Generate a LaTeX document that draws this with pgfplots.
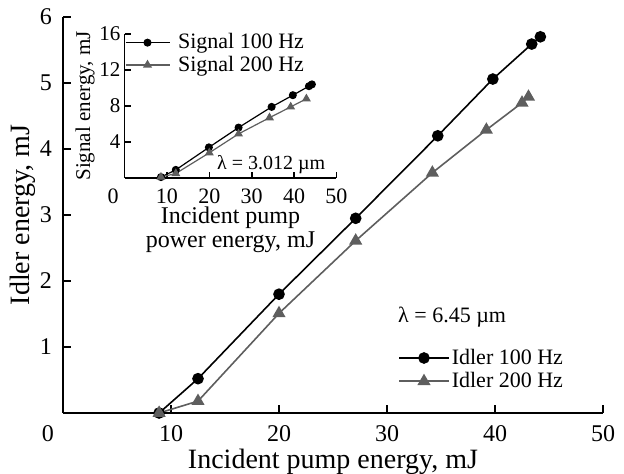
\documentclass[border=0pt]{standalone}
\usepackage{fontspec}
\setmainfont{Liberation Serif}
\usepackage{pgfplots}
\pgfplotsset{compat=1.18}
\definecolor{dgray}{HTML}{5E5E5E}

\begin{document}
\begin{tikzpicture}
\useasboundingbox (-31.5pt,-30.5pt) rectangle (280.5pt,206.5pt);
% main axis: idler
\begin{axis}[
    name=main,
    scale only axis, width=270pt, height=198pt,
    xmin=0, xmax=50, ymin=0, ymax=6,
    axis lines*=left, tick align=inside,
    axis line style={line width=0.8pt}, major tick length=4pt,
    every tick/.style={line width=0.8pt, black},
    xtick={10,20,30,40,50}, ytick={1,2,3,4,5,6},
    extra x ticks={0},
    extra x tick style={major tick length=0pt, xticklabel style={xshift=-7.5pt}},
    /pgf/number format/assume math mode=true,
    tick label style={font=\fontsize{12}{14}\selectfont},
    xticklabel style={inner sep=0pt, yshift=-6pt},
    yticklabel style={xshift=-2pt},
    label style={font=\fontsize{14}{16}\selectfont},
    xlabel={Incident pump energy, mJ},
    ylabel={Idler energy, mJ},
    xlabel style={at={(axis description cs:0.5,0)}, anchor=center, inner sep=0pt, yshift=-24.5pt},
    ylabel style={at={(axis description cs:0,0.5)}, anchor=center, yshift=20pt},
    clip=false,
    legend style={draw=none, fill=none, at={(rel axis cs:0.62,0.168)}, anchor=north west,
        font=\fontsize{11}{13}\selectfont, inner sep=0pt, row sep=0.5pt,
        nodes={inner sep=1pt}},
    legend image code/.code={
        \draw[mark repeat=2,mark phase=2,#1] plot coordinates {(0pt,0pt) (12.5pt,0pt) (25pt,0pt)};},
]
\addplot[black, line width=0.8pt, mark=*, mark size=2.5pt] coordinates {
    (8.9,0) (12.5,0.52) (20,1.80) (27.1,2.95) (34.7,4.20) (39.8,5.06) (43.4,5.59) (44.2,5.70)};
\addlegendentry{Idler 100 Hz}
\addplot[dgray, line width=0.8pt, mark=triangle*, mark size=3pt] coordinates {
    (8.9,0) (12.5,0.18) (20,1.51) (27.1,2.61) (34.2,3.64) (39.2,4.29) (42.5,4.70) (43.1,4.79)};
\addlegendentry{Idler 200 Hz}
\node[anchor=west, font=\fontsize{11}{13}\selectfont, inner sep=0pt] at (rel axis cs:0.62,0.242) {λ = 6.45 µm};
\end{axis}

% inset axis: signal
\begin{axis}[
    at={(main.south west)}, shift={(61.5/2 pt, 235/2 pt)}, anchor=south west,
    scale only axis, width=106pt, height=72pt,
    xmin=0, xmax=50, ymin=0, ymax=16,
    axis lines*=left, tick align=inside,
    axis line style={line width=0.8pt}, major tick length=3pt,
    every tick/.style={line width=0.8pt, black},
    xtick={10,20,30,40,50}, ytick={4,8,12,16},
    extra x ticks={0},
    extra x tick style={major tick length=0pt, xticklabel style={xshift=-5.75pt}},
    /pgf/number format/assume math mode=true,
    xticklabel style={font=\fontsize{11}{12}\selectfont, inner sep=0pt, yshift=-5pt},
    yticklabel style={font=\fontsize{10.5}{12}\selectfont, xshift=1.5pt},
    label style={font=\fontsize{12}{12}\selectfont},
    xlabel={Incident pump\\power energy, mJ},
    ylabel={Signal energy, mJ},
    xlabel style={at={(axis description cs:0.5,0)}, anchor=center, align=center,
        inner sep=0pt, yshift=-26pt},
    ylabel style={at={(axis description cs:0,0.5)}, anchor=center, yshift=19.75pt,
        font=\fontsize{10.5}{12}\selectfont},
    clip=false,
    legend style={draw=none, fill=none, at={(rel axis cs:0,1.02)}, anchor=north west,
        font=\fontsize{11}{13}\selectfont, inner sep=0pt, row sep=0pt,
        nodes={inner sep=1pt},
        /tikz/every odd column/.append style={column sep=3pt}},
    legend image code/.code={
        \draw[mark repeat=2,mark phase=2,#1] plot coordinates {(0pt,0pt) (11pt,0pt) (22pt,0pt)};},
]
\addplot[black, line width=0.6pt, mark=*, mark size=1.7pt] coordinates {
    (8.6,0.1) (12.1,0.9) (19.9,3.4) (26.9,5.6) (34.7,7.9) (39.7,9.2) (43.5,10.2) (44.2,10.4)};
\addlegendentry{Signal 100 Hz}
\addplot[dgray, line width=0.6pt, mark=triangle*, mark size=2pt] coordinates {
    (8.6,0.1) (12.1,0.5) (20,2.8) (26.9,4.9) (34.2,6.7) (39.2,7.9) (42.9,8.8)};
\addlegendentry{Signal 200 Hz}
\node[anchor=west, font=\fontsize{10}{12}\selectfont, inner sep=0pt] at (rel axis cs:0.435,0.09) {λ = 3.012 µm};
\end{axis}
\end{tikzpicture}
\end{document}
